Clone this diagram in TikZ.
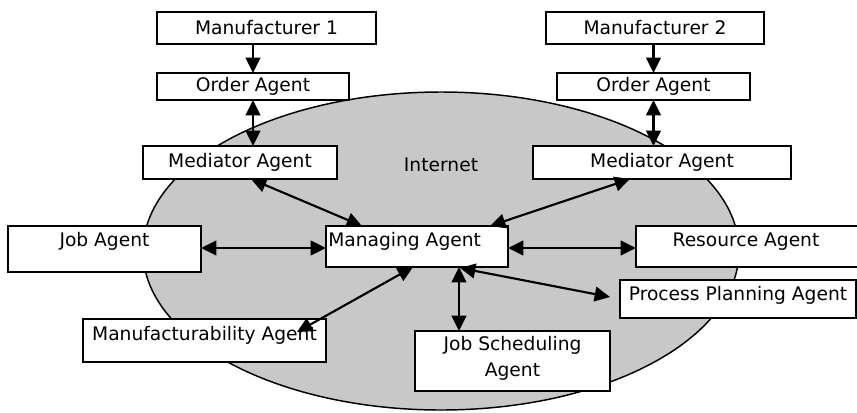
\documentclass[tikz,border=0pt]{standalone}
\usepackage{fontspec}
\setmainfont{DejaVu Sans}
\usetikzlibrary{arrows.meta,calc,shapes.geometric}
\definecolor{netgray}{RGB}{200,200,200}
\begin{document}
\begin{tikzpicture}[x=0.75pt,y=-0.75pt,
  every node/.style={font=\fontsize{14}{19.5}\selectfont},
  box/.style={draw=black,line width=1.4pt,fill=white,inner sep=0pt,outer sep=0pt},
  lbl/.style={inner sep=0pt,anchor=base,align=center},
  tip/.style={},
  con/.style={line width=1.6pt,-{Triangle[length=11.5pt,width=11pt]}},
  bicon/.style={line width=1.6pt,{Triangle[length=11.5pt,width=11pt]}-{Triangle[length=11.5pt,width=11pt]}}]
\useasboundingbox (0,0) rectangle (857,412);
% Internet cloud
\node[ellipse,draw=black,line width=1.1pt,fill=netgray,minimum width=447pt,minimum height=238.5pt,inner sep=0pt] (net) at (441,251) {};
\node[lbl] (netT) at (441,171) {Internet};
% boxes
\node[box,minimum width=164.25pt,minimum height=24pt] (m1) at (266.5,28) {Manufacturer 1};
\node[box,minimum width=144pt,minimum height=20.25pt] (o1) at (253,86.5) {Order Agent};
\node[box,minimum width=145.5pt,minimum height=24.75pt] (medL) at (240,162.5) {Mediator Agent};
\node[box,minimum width=163.5pt,minimum height=24pt] (m2) at (655,28) {Manufacturer 2};
\node[box,minimum width=144.75pt,minimum height=20.25pt] (o2) at (653.5,86.5) {Order Agent};
\node[box,minimum width=193.5pt,minimum height=24.75pt] (medR) at (662,162.5) {Mediator Agent};
\node[box,minimum width=144.75pt,minimum height=34.5pt] (job) at (104.5,249) {};
\node[lbl] (jobT) at (104.5,246) {Job Agent};
\node[box,minimum width=136.5pt,minimum height=30.75pt] (mng) at (417,246.5) {};
\node[lbl,anchor=base west] (mngT) at (328,246) {Managing Agent};
\node[box,minimum width=175.5pt,minimum height=30.75pt] (res) at (753,246.5) {};
\node[lbl] (resT) at (746,246) {Resource Agent};
\node[box,minimum width=177pt,minimum height=28.5pt] (ppa) at (738,299) {};
\node[lbl] (ppaT) at (738,300) {Process Planning Agent};
\node[box,minimum width=182.25pt,minimum height=32.25pt] (mfa) at (204.5,340.5) {};
\node[lbl] (mfaT) at (204.5,340) {Manufacturability Agent};
\node[box,minimum width=146.25pt,minimum height=45pt] (jsa) at (512.5,361) {};
\node[lbl,anchor=north] (jsaT) at (512.5,336) {Job Scheduling\\Agent};
% free ends
\coordinate (jsTop) at ($(mng.south east)+(-49,0)$);
% connectors
\draw[con] (o1.north |- m1.south) -- (o1.north);
\draw[con] (o2.north |- m2.south) -- (o2.north);
\draw[bicon] (o1.south) -- (o1.south |- medL.north);
\draw[bicon] (o2.south) -- (o2.south |- medR.north);
\draw[bicon] ($(medL.south)+(11,0)$) -- ($(mng.north west)+(36,0)$);
\draw[bicon] ($(medR.south)+(-32,0)$) -- ($(mng.north east)+(-18,0)$);
\draw[bicon] (job.east |- 0,248) -- (mng.west |- 0,248);
\draw[bicon] (mng.east |- 0,248) -- (res.west |- 0,248);
\draw[bicon] ($(mng.south)+(-4,0)$) -- ($(mfa.north east)+(-29,13)$);
\draw[bicon] (jsTop) -- (jsTop |- jsa.north);
\draw[bicon] ($(mng.south)+(43,1)$) -- ($(ppa.west)+(-10,-2)$);
\end{tikzpicture}
\end{document}
